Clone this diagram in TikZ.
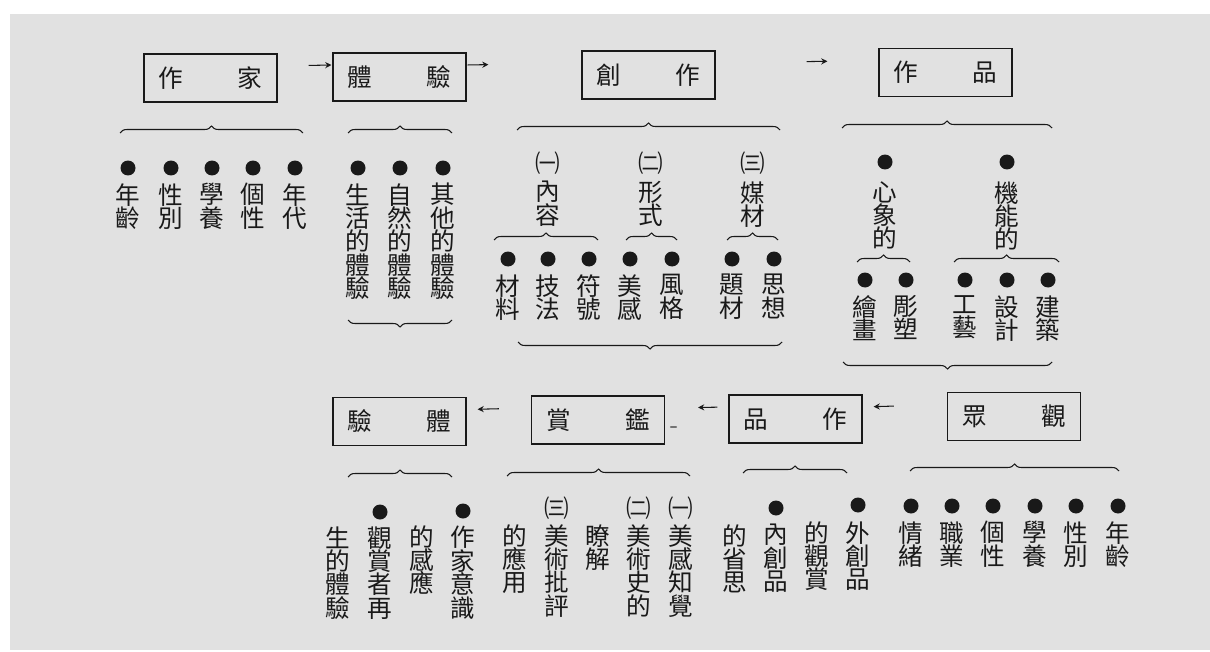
\documentclass[tikz,border=0pt]{standalone}
\usepackage{fontspec}
\setmainfont{Noto Sans CJK TC}
\usepackage{tikz}
\usetikzlibrary{arrows.meta,decorations.pathreplacing}
\definecolor{paper}{RGB}{225,225,225}
\definecolor{ink}{RGB}{25,25,25}
\newlength\pxu \setlength\pxu{0.02cm}

\begin{document}
\begin{tikzpicture}[x=0.02cm, y=-0.02cm, color=ink,
	titlebox/.style={draw=ink, line width=0.7pt, minimum width=2.66cm, minimum height=0.96cm, inner sep=0, font=\fontsize{14}{14}\selectfont},
	dot/.style={circle, fill=ink, inner sep=0, minimum size=0.3cm},
	col/.style={anchor=north, align=center, inner sep=0, yshift=-3\pxu, font={\fontsize{14}{13.3}\selectfont\lineskiplimit=-100pt}},
	num/.style={inner sep=0, font=\fontsize{14}{14}\selectfont},
	arr/.style={-{Stealth[length=3.5pt,width=3.5pt]}, line width=0.6pt},
	brc/.style={decorate, decoration={brace, amplitude=0.14cm}, line width=0.6pt},
	brcdown/.style={brc, decoration={mirror}}]
	\useasboundingbox (0,0) rectangle (1210,652);
	\fill[paper] (10,14) rectangle (1210,650);
	% top row
	\node[titlebox] (writer) at (210.5,78) {作\hspace{2.2em}家};
	\node[titlebox] (exper) at (399.5,77) {體\hspace{2.2em}驗};
	\node[titlebox] (create) at (648.5,75) {創\hspace{2.2em}作};
	\node[titlebox] (work) at (945.5,72.5) {作\hspace{2.2em}品};
	\draw[arr, shorten <=31\pxu, shorten >=1\pxu] ([yshift=12\pxu]writer.east) -- ([yshift=12\pxu]exper.west);
	\draw[arr, shorten <=1\pxu, shorten >=93\pxu] ([yshift=12\pxu]exper.east) -- ([yshift=12\pxu]create.west);
	\draw[arr, shorten <=91\pxu, shorten >=51\pxu] ([yshift=12\pxu]create.east) -- ([yshift=12\pxu]work.west);
	\draw[brc] (120,133) -- (303,133);
	\draw[brc] (348,133) -- (452,133);
	\draw[brc] (517,130) -- (780,130);
	\draw[brc] (842,128) -- (1052,128);
	\foreach \x/\t [count=\i] in {128/年\\齡, 171/性\\別, 212/學\\養, 253/個\\性, 295/年\\代}{
		\node[dot] (wd\i) at (\x,168) {};
		\node[col] (wt\i) at (\x,180) {\t};
	}
	\foreach \x/\t [count=\i] in {358/生\\活\\的\\體\\驗, 400/自\\然\\的\\體\\驗, 443/其\\他\\的\\體\\驗}{
		\node[dot] (ed\i) at (\x,168) {};
		\node[col] (et\i) at (\x,180) {\t};
	}
	\draw[brcdown] (348,320) -- (452,320);
	% creation
	\foreach \x/\n/\t [count=\i] in {548/㈠/內\\容, 651/㈡/形\\式, 753/㈢/媒\\材}{
		\node[num] (cn\i) at (\x,163) {\n};
		\node[col] (ch\i) at (\x,178) {\t};
	}
	\draw[brc] (494,240) -- (598,240);
	\draw[brc] (626,240) -- (677,240);
	\draw[brc] (727,240) -- (778,240);
	\foreach \x/\t [count=\i] in {508/材\\料, 548/技\\法, 589/符\\號, 630/美\\感, 672/風\\格, 732/題\\材, 774/思\\想}{
		\node[dot] (cd\i) at (\x,259) {};
		\node[col] (ct\i) at (\x,271) {\t};
	}
	\draw[brcdown] (518,342) -- (782,342);
	% works
	\foreach \x/\t [count=\i] in {885/心\\象\\的, 1007/機\\能\\的}{
		\node[dot] (kd\i) at (\x,162) {};
		\node[col] (kh\i) at (\x,178) {\t};
	}
	\draw[brc] (857,262) -- (910,262);
	\draw[brc] (954,262) -- (1059,262);
	\foreach \x/\t [count=\i] in {865/繪\\畫, 906/彫\\塑, 965/工\\藝, 1007/設\\計, 1048/建\\築}{
		\node[dot] (kid\i) at (\x,280) {};
		\node[col] (kit\i) at (\x,292) {\t};
	}
	\draw[brcdown] (843,362) -- (1052,362);
	% bottom row
	\node[titlebox] (exper2) at (399.5,421.5) {驗\hspace{2.2em}體};
	\node[titlebox] (apprec) at (598,420) {賞\hspace{2.2em}鑑};
	\node[titlebox] (work2) at (795.5,419) {品\hspace{2.2em}作};
	\node[titlebox] (viewer) at (1014,416.5) {眾\hspace{2.2em}觀};
	\draw[arr, shorten <=53\pxu, shorten >=11\pxu] ([yshift=12\pxu]viewer.west) -- ([yshift=12\pxu]work2.east);
	\draw[arr, shorten <=11\pxu, shorten >=33\pxu] ([yshift=12\pxu]work2.west) -- ([yshift=12\pxu]apprec.east);
	\draw[arr, shorten <=32\pxu, shorten >=11\pxu] ([yshift=12\pxu]apprec.west) -- ([yshift=12\pxu]exper2.east);
	\draw[line width=1.4pt, black!55, line cap=round] (671,427) -- (676,427);
	\draw[brc] (348,477) -- (452,477);
	\draw[brc] (507,476) -- (690,476);
	\draw[brc] (743,473) -- (847,473);
	\draw[brc] (910,471) -- (1119,471);
	% re-experience
	\node[col] (rt1) at (338,523) {生\\的\\體\\驗};
	\node[dot] (rd2) at (380,512) {};
	\node[col] (rt2) at (380,523) {觀\\賞\\者\\再};
	\node[col] (rt3) at (422,522) {的\\感\\應};
	\node[dot] (rd4) at (463,511) {};
	\node[col] (rt4) at (463,523) {作\\家\\意\\識};
	% appreciation
	\node[col] (at1) at (515,521) {的\\應\\用};
	\node[num] (an3) at (557,508) {㈢};
	\node[col] (at2) at (557,521) {美\\術\\批\\評};
	\node[col] (at3) at (598,521) {瞭\\解};
	\node[num] (an2) at (639,508) {㈡};
	\node[col] (at4) at (639,521) {美\\術\\史\\的};
	\node[num] (an1) at (681,508) {㈠};
	\node[col] (at5) at (681,521) {美\\感\\知\\覺};
	% works seen
	\node[col] (pt1) at (735,521) {的\\省\\思};
	\node[dot] (pd2) at (776,508) {};
	\node[col] (pt2) at (776,521) {內\\創\\品};
	\node[col] (pt3) at (817,518) {的\\觀\\賞};
	\node[dot] (pd4) at (858,505) {};
	\node[col] (pt4) at (858,518) {外\\創\\品};
	% viewers
	\foreach \x/\t [count=\i] in {911/情\\緒, 952/職\\業, 993/個\\性, 1035/學\\養, 1076/性\\別, 1118/年\\齡}{
		\node[dot] (vd\i) at (\x,506) {};
		\node[col] (vt\i) at (\x,518) {\t};
	}
\end{tikzpicture}
\end{document}
